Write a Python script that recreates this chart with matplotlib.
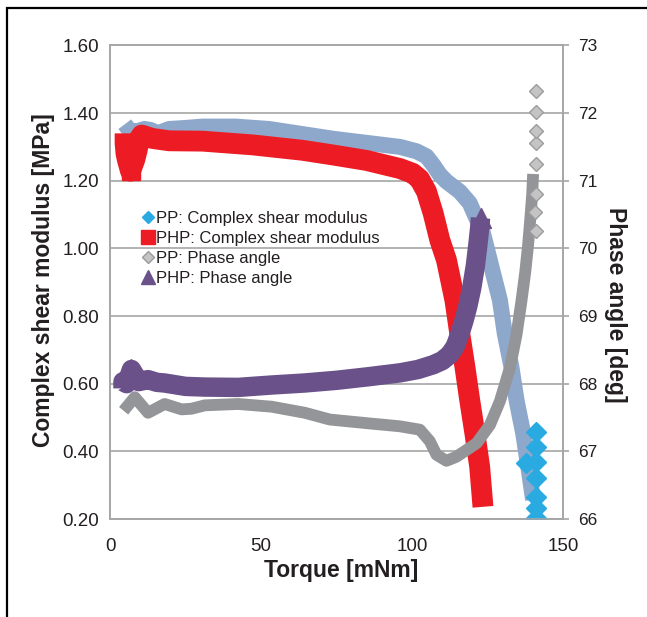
import matplotlib
matplotlib.use('Agg')
import matplotlib.pyplot as plt
from matplotlib.lines import Line2D
from matplotlib.patches import Rectangle
from matplotlib.ticker import FormatStrFormatter

plt.rcParams['font.family'] = ['Liberation Sans', 'DejaVu Sans']

# PP: complex shear modulus (dense band) [mNm], [MPa]
pp_mod_t = [4.9, 6.5, 8.5, 11.4, 13.5, 15.8, 19.6, 25.0, 30.6, 41.6, 52.6, 62.9,
            73.9, 84.9, 96.0, 101.5, 104.8, 107.0, 109.2, 111.4, 115.8, 119.1,
            123.5, 129.1, 130.7, 132.9, 134.6, 136.8, 138.5, 140.1]
pp_mod_v = [1.367, 1.348, 1.345, 1.353, 1.350, 1.340, 1.353, 1.356, 1.360, 1.360,
            1.353, 1.339, 1.324, 1.312, 1.300, 1.287, 1.272, 1.247, 1.218, 1.198,
            1.168, 1.134, 1.045, 0.847, 0.749, 0.651, 0.552, 0.454, 0.355, 0.257]
# PP: complex shear modulus (last sparse points)
pp_mod_tail_t = [141.2, 141.2, 137.9, 141.2, 141.2, 141.2, 141.2, 141.2]
pp_mod_tail_v = [0.458, 0.414, 0.365, 0.368, 0.322, 0.266, 0.232, 0.202]

# PHP: complex shear modulus
php_mod_t = [5.0, 5.0, 5.3, 5.8, 6.8, 8.2, 9.0, 9.8, 10.5, 14.0, 19.6, 30.6, 47.1,
             63.7, 73.9, 84.9, 96.0, 100.2, 102.5, 104.8, 107.0, 109.2, 111.4,
             114.2, 115.8, 117.5, 119.1, 120.8, 122.4, 123.5]
php_mod_v = [1.340, 1.310, 1.280, 1.260, 1.228, 1.262, 1.290, 1.325, 1.335, 1.325,
             1.318, 1.317, 1.306, 1.290, 1.276, 1.260, 1.236, 1.222, 1.205, 1.168,
             1.104, 1.025, 0.966, 0.847, 0.749, 0.651, 0.552, 0.454, 0.355, 0.236]

# PP: phase angle [deg]
pp_ph_t = [4.5, 8.2, 12.6, 18.1, 23.7, 27.0, 31.4, 42.4, 53.5, 64.5, 72.8, 86.5,
           96.0, 102.6, 105.9, 108.1, 111.4, 114.7, 121.4, 125.8, 129.1, 132.4,
           134.6, 136.3, 137.5, 138.4, 139.2, 139.8, 140.1]
pp_ph_v = [67.60, 67.80, 67.57, 67.70, 67.62, 67.63, 67.68, 67.70, 67.66, 67.57,
           67.47, 67.41, 67.37, 67.32, 67.15, 66.95, 66.86, 66.92, 67.12, 67.39,
           67.74, 68.23, 68.72, 69.24, 69.65, 70.03, 70.45, 70.80, 71.10]
pp_ph_tail_t = [141.2, 140.8, 141.2, 141.0, 141.2, 141.2, 141.2, 141.2]
pp_ph_tail_v = [70.26, 70.54, 70.80, 71.25, 71.56, 71.74, 72.01, 72.33]

# PHP: phase angle [deg]
php_ph_t = [4.3, 4.3, 5.5, 7.1, 9.5, 12.6, 15.5, 18.1, 25.0, 31.4, 42.4, 53.4,
            64.4, 75.0, 85.0, 96.0, 102.0, 107.0, 110.0, 112.5, 114.3, 115.8,
            117.2, 118.5, 119.8, 121.0, 121.8, 122.4, 122.7]
php_ph_v = [67.93, 68.03, 68.00, 68.21, 68.03, 68.06, 68.02, 68.01, 67.96, 67.95,
            67.945, 67.98, 68.01, 68.05, 68.10, 68.16, 68.21, 68.28, 68.34, 68.43,
            68.55, 68.73, 68.93, 69.15, 69.42, 69.75, 70.05, 70.30, 70.45]

labels = ['PP: Complex shear modulus', 'PHP: Complex shear modulus',
          'PP: Phase angle', 'PHP: Phase angle']

C_PP_BAND = '#8EA8CC'
C_PP = '#29ABE2'
C_PHP = '#ED1C24'
C_PP_PH = '#939598'
C_PHP_PH = '#6A5189'
C_GRID = '#A6A6A6'
C_TXT = '#231F20'

fig = plt.figure(figsize=(6.47, 6.17), dpi=100)
ax = fig.add_axes([110 / 647, 1 - 519 / 617, 453 / 647, 473.6 / 617])
ax2 = ax.twinx()

# modulus series (primary axis)
ax.plot(pp_mod_t, pp_mod_v, color=C_PP_BAND, lw=11.5, solid_capstyle='butt',
        solid_joinstyle='round', zorder=2)
ax.plot(pp_mod_tail_t, pp_mod_tail_v, ls='none', marker='D', ms=10,
        color=C_PP, zorder=3)
ax.plot(php_mod_t, php_mod_v, color=C_PHP, lw=15, solid_capstyle='butt',
        solid_joinstyle='round', marker='s', ms=13, markevery=[4], zorder=4)

# phase angle series (secondary axis)
ax2.plot(pp_ph_t, pp_ph_v, color=C_PP_PH, lw=8.5, solid_capstyle='butt',
         solid_joinstyle='round', zorder=2)
ax2.plot(pp_ph_tail_t, pp_ph_tail_v, ls='none', marker='D', ms=7.5,
         mfc='#C4C4C4', mec='#9C9C9C', mew=1, zorder=3)
ax2.plot(php_ph_t, php_ph_v, color=C_PHP_PH, lw=14, solid_capstyle='butt',
         solid_joinstyle='round', marker='^', ms=15, markevery=[3, -1], zorder=4)

ax.set_xlim(0, 150)
ax.set_ylim(0.2, 1.6)
ax2.set_ylim(66, 73)
ax.set_xticks([0, 50, 100, 150])
ax.set_yticks([0.2, 0.4, 0.6, 0.8, 1.0, 1.2, 1.4, 1.6])
ax.yaxis.set_major_formatter(FormatStrFormatter('%.2f'))
ax2.set_yticks(range(66, 74))

ax.grid(axis='y', color=C_GRID, lw=1.2)
ax.set_axisbelow(True)
for a in (ax, ax2):
    for sp in a.spines.values():
        sp.set_color(C_GRID)
        sp.set_linewidth(1.2)
ax.tick_params(axis='y', length=0, labelsize=13.5, pad=8, colors=C_TXT)
ax.tick_params(axis='x', length=0, labelsize=13.5, pad=14, colors=C_TXT)
ax2.tick_params(axis='y', length=4, width=1.2, color=C_GRID, labelsize=12.5,
                pad=7, labelcolor=C_TXT)

# legend
handles = [
    Line2D([], [], ls='none', marker='D', ms=6.5, color=C_PP),
    Line2D([], [], ls='none', marker='s', ms=10, color=C_PHP),
    Line2D([], [], ls='none', marker='D', ms=6.5, mfc='#C4C4C4', mec='#9C9C9C'),
    Line2D([], [], ls='none', marker='^', ms=10, color=C_PHP_PH),
]
ax.legend(handles, labels, loc='upper left', bbox_to_anchor=(0.07, 0.65),
          frameon=False, fontsize=12, handlelength=0.7, handletextpad=0.15,
          labelspacing=0.3, borderpad=0, borderaxespad=0, labelcolor=C_TXT)

# axis titles
fig.text(44 / 647, 1 - 280 / 617, 'Complex shear modulus [MPa]', rotation=90,
         ha='center', va='center', fontsize=16.5, fontweight='bold', color=C_TXT)
fig.text(615 / 647, 1 - 305 / 617, 'Phase angle [deg]', rotation=-90,
         ha='center', va='center', fontsize=16.5, fontweight='bold', color=C_TXT)
fig.text(341 / 647, 1 - 571 / 617, 'Torque [mNm]', ha='center', va='center',
         fontsize=16.5, fontweight='bold', color=C_TXT)

# outer frame (cut at right and bottom)
fig.patches.append(Rectangle((7 / 647, -0.1), 1.2, 1.1 - 8 / 617, fill=False,
                             ec='black', lw=1.6, transform=fig.transFigure))

fig.savefig('out.png', dpi=100, facecolor='white')
